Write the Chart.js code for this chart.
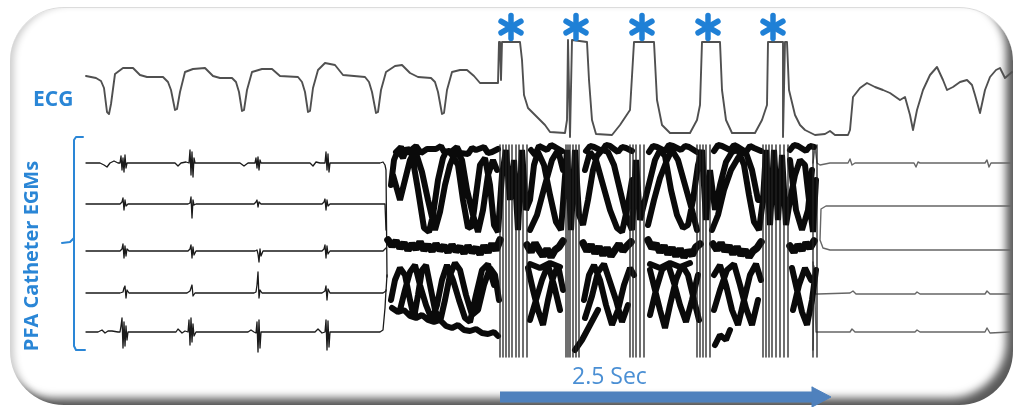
<!DOCTYPE html>
<html>
<head>
<meta charset="utf-8">
<script src="https://cdn.jsdelivr.net/npm/chart.js@4.4.1/dist/chart.umd.min.js"></script>
<style>
html, body { margin: 0; padding: 0; background: #fff; }
#wrap { position: relative; width: 1016px; height: 407px; overflow: hidden; background: #fff; }
#frame {
    position: absolute; left: 10px; top: 7px; width: 1003px; height: 398px;
    box-sizing: border-box; border-radius: 54px;
    border-top: 1px solid #dcdcdc;
    box-shadow: inset -10px -10px 8px -3px rgba(0,0,0,0.65), inset 7px 0 7px -3px rgba(0,0,0,0.2);
}
#chart { position: absolute; left: 0; top: 0; }
.lbl { position: absolute; color: #2a86d6; font-family: "Open Sans", Lato, sans-serif; font-weight: 700; white-space: nowrap; line-height: 1; }
#ecgLbl { left: 33px; top: 88px; font-size: 21px; }
#pfaLbl { left: 31px; top: 256px; font-size: 20px; transform: translate(-50%, -50%) rotate(-90deg); }
#secLbl { left: 572px; top: 364px; font-size: 23px; font-weight: 400; color: #4a8fd4; }
</style>
</head>
<body>
<div id="wrap">
    <div id="frame"></div>
    <canvas id="chart" width="1016" height="407"></canvas>
    <div class="lbl" id="ecgLbl">ECG</div>
    <div class="lbl" id="pfaLbl">PFA Catheter EGMs</div>
    <div class="lbl" id="secLbl">2.5 Sec</div>
</div>
<script>
// ========================
// DATA  (x = sample, 132 per second ; y = trace level, top down)
// ========================
const ecgTrace = [
    [86,76],[96,78],[101,81],[104,88],[107,112],[109,114],[111,104],[115,74],[123,68],[133,68],[140,75],[147,77],[163,77],[168,82],
    [171,90],[175,110],[177,109],[180,92],[185,72],[193,69],[205,68],[213,76],[220,78],[232,78],[236,82],
    [239,92],[242,111],[244,110],[247,90],[252,72],[262,69],[272,69],[280,76],[298,77],[302,82],
    [305,92],[308,112],[310,111],[313,88],[318,70],[325,63],[335,65],[343,75],[365,77],[369,82],
    [372,92],[376,113],[378,112],[381,90],[386,72],[395,66],[402,65],[410,73],[418,77],[431,78],[435,82],
    [438,92],[442,114],[444,113],[447,90],[452,72],[460,70],[467,70],[474,76],[480,83],[498,83],[499,42],
    [500,42],[501,80],[502,42],
    [520,42],[522,60],[524,95],[528,108],[535,115],[545,125],[550,132],[565,133],[567,120],[568,40],[570,137],[572,40],
    [587,42],[589,80],[592,120],[596,134],[612,135],[620,125],[630,110],[634,42],
    [654,42],[657,100],[662,125],[670,133],[690,133],[697,120],[700,105],[702,42],
    [720,42],[722,90],[726,120],[732,133],[755,133],[762,120],[767,105],[768,42],
    [783,42],[783,137],[785,42],[787,42],[789,90],[795,115],[800,125],[805,130],[815,135],[825,134],[830,131],[835,135],[848,135],
    [850,130],[853,97],[860,88],[867,83],[875,87],[883,90],[890,93],[900,100],[905,97],[910,115],[913,130],[917,110],[923,90],
    [930,75],[937,67],[943,80],[947,90],[953,87],[960,82],[967,80],[972,85],[975,95],[980,113],[985,90],[990,77],[996,70],[1000,68],[1005,78],[1012,72]
];

const egmPre1 = [
    [86,163],[100,163],[104,165],[107,167],[110,163],[114,161],[118,163],[120,163],[121,156],[122,170],[123,158],[124,172],[125,155],[126,168],[127,163],[130,163],
    [175,163],[178,166],[181,163],[186,162],[189,163],[190,150],[191,175],[192,152],[193,177],[194,158],[195,163],[200,163],
    [240,163],[244,166],[248,163],[255,163],[256,158],[257,168],[258,157],[259,170],[260,160],[261,163],
    [310,163],[313,166],[316,162],[320,163],[325,163],[326,152],[327,170],[328,154],[329,172],[330,163],
    [380,163],[383,162],[385,165],[386,170],[387,277]
];
const egmPre2 = [
    [86,204],[120,204],[122,202],[123,198],[124,210],[125,200],[126,206],[128,204],
    [188,204],[190,203],[191,197],[192,218],[193,200],[194,205],[196,204],
    [254,204],[256,202],[257,200],[258,207],[259,202],[261,204],
    [322,204],[324,202],[325,199],[326,210],[327,200],[328,206],[330,204],[385,204],[386,230]
];
const egmPre3 = [
    [86,251],[120,251],[122,249],[123,244],[124,258],[125,246],[126,256],[127,249],[129,251],
    [188,251],[190,249],[191,245],[192,258],[193,247],[194,255],[196,251],
    [255,251],[257,250],[258,254],[259,262],[260,249],[261,256],[263,251],
    [322,251],[324,249],[325,245],[326,258],[327,246],[328,254],[330,251],[383,251],[386,248]
];
const egmPre4 = [
    [86,293],[120,293],[123,292],[124,288],[125,286],[126,298],[127,290],[129,293],
    [187,293],[190,291],[192,285],[193,296],[195,293],
    [254,293],[256,292],[257,285],[258,272],[259,298],[260,290],[262,293],
    [322,293],[325,291],[326,286],[327,300],[328,289],[330,293],[383,293],[386,291],[387,275]
];
const egmPre5 = [
    [86,332],[98,332],[102,330],[105,333],[108,331],[112,331],[118,332],[120,332],[121,326],[122,318],[123,348],[124,322],[125,346],[126,326],[127,340],[128,332],
    [176,332],[178,329],[182,333],[185,331],[188,332],[189,320],[190,345],[191,318],[192,342],[193,324],[194,336],[196,332],
    [248,332],[251,330],[254,332],[256,333],[257,322],[258,352],[259,320],[260,348],[261,332],
    [315,332],[318,329],[322,333],[325,332],[326,320],[327,350],[328,321],[329,347],[330,332],
    [380,332],[383,330],[385,308],[386,290]
];

const egmPost1 = [[813,163],[815,147],[817,163],[820,165],[830,163],[848,163],[850,159],[852,165],[855,163],[914,163],[916,167],[918,162],[920,163],[985,163],[987,160],[989,167],[991,163],[1010,163]];
const egmPost23 = [[1010,206],[826,206],[821,209],[820,240],[823,248],[830,250],[1010,250]];
const egmPost4 = [[813,262],[815,294],[818,294],[850,293],[853,291],[856,294],[915,294],[917,292],[920,294],[985,294],[987,291],[990,294],[1010,294]];
const egmPost5 = [[813,350],[814,266],[816,332],[850,332],[852,329],[855,332],[915,332],[917,330],[920,332],[985,332],[987,328],[990,333],[1010,332]];

// PFA artefact, drawn as thick strokes
const noiseTop = [
    [[391,185],[394,160],[398,150],[403,158],[407,148],[412,155],[418,190],[424,228],[429,232],[433,215],[438,180],[443,158],[447,150],[452,155],[458,165],[463,200],[468,228],[472,226],[476,195],[480,165],[485,158],[490,185],[494,225],[498,232],
     [502,175],[506,150],[510,200],[514,160],[518,230],[522,150],[526,210],[530,200],[534,165],[538,152],[544,165],[550,195],[556,222],[561,230],[564,190],[567,150],[571,230],[575,150],[579,215],[583,225],
     [588,200],[593,170],[597,156],[602,150],[608,152],[614,165],[620,190],[626,215],[632,230],[636,160],[640,220],[645,200],[650,180],[655,160],[660,150],[665,156],[671,190],[677,215],[683,228],[688,225],
     [693,200],[698,165],[702,150],[706,220],[710,170],[715,210],[720,185],[726,162],[732,152],[738,150],[744,165],[749,195],[754,222],[759,230],[763,200],[766,150],[770,225],[774,150],[778,220],
     [782,155],[786,225],[790,200],[795,175],[800,160],[805,165],[809,200],[813,232],[816,180]],
    [[393,175],[400,200],[405,180],[410,160],[415,150],[422,172],[428,200],[435,230],[440,212],[445,185],[450,165],[456,150],[462,160],[467,190],[473,215],[478,232],[483,210],[488,175],[493,160],[497,170]],
    [[530,230],[537,215],[545,185],[552,160],[558,150],[563,170]],
    [[585,170],[590,152],[596,160],[603,185],[610,210],[617,228],[622,232],[628,205],[632,180]],
    [[648,225],[654,200],[660,178],[667,160],[672,150],[678,160],[685,185],[692,210],[697,230]],
    [[712,230],[718,215],[724,190],[731,170],[738,158],[745,150],[752,170],[758,200]],
    [[790,160],[796,210],[802,230],[808,210],[812,170]],
    [[396,152],[401,147],[404,154],[411,150],[416,146],[421,153],[427,149],[436,149],[441,146],[444,152],[452,151],[457,147],[460,153],[468,154],[472,148],[476,150],[484,147],[488,153],[492,152],[498,149]],
    [[531,150],[535,155],[539,146],[547,150],[551,145],[555,147],[562,151]],
    [[586,151],[590,146],[594,147],[602,151],[606,145],[610,146],[618,152],[622,147],[626,148],[632,151]],
    [[649,152],[653,146],[657,147],[665,151],[669,145],[673,146],[681,150],[685,146],[689,147],[697,152]],
    [[714,151],[718,145],[722,146],[730,150],[734,145],[738,147],[746,152],[750,146],[754,148],[761,151]],
    [[790,150],[794,145],[798,146],[806,151],[810,146],[814,147]]
];
const noiseMid = [
    [[388,240],[392,246],[396,241],[400,248],[404,243],[408,250],[412,244],[416,249],[420,242],[424,250],[428,245],[432,251],[436,244],[440,250],[444,246],[448,252],[452,245],[456,251],[460,247],[464,253],[468,246],[472,252],[476,248],[480,254],[484,246],[488,252],[492,244],[496,250],[500,240]],
    [[527,245],[531,252],[535,243],[539,250],[543,256],[547,249],[551,257],[555,250],[559,247],[563,241]],
    [[583,243],[587,251],[591,245],[595,253],[599,247],[603,255],[607,248],[611,256],[615,250],[619,244],[623,251],[627,246],[631,242]],
    [[648,240],[652,248],[656,244],[660,252],[664,246],[668,254],[672,248],[676,256],[680,249],[684,257],[688,251],[692,255],[696,247],[700,244]],
    [[713,244],[717,250],[721,243],[725,251],[729,246],[733,254],[737,247],[741,255],[745,250],[749,257],[753,251],[757,248],[761,242]],
    [[790,246],[794,252],[798,245],[802,250],[806,243],[810,248],[814,241]]
];
const noiseLow = [
    [[391,300],[395,280],[400,268],[405,275],[410,300],[414,318],[418,295],[422,270],[426,265],[430,285],[435,310],[440,322],[445,300],[450,275],[455,263],[460,270],[466,295],[472,315],[478,310],[484,285],[490,268],[495,275],[499,300]],
    [[528,268],[533,290],[538,310],[543,325],[548,300],[553,278],[558,265],[563,290]],
    [[584,300],[589,275],[594,265],[600,280],[606,305],[612,325],[618,310],[624,285],[630,268],[634,275]],
    [[650,270],[655,290],[660,310],[665,328],[670,305],[676,280],[682,265],[688,275],[694,300],[699,320]],
    [[714,275],[720,265],[726,285],[732,310],[738,325],[744,300],[750,275],[756,264],[761,280]],
    [[792,268],[797,290],[802,312],[807,325],[812,300],[816,270]],
    [[400,310],[405,290],[410,272],[415,265],[420,285],[426,305],[432,320],[437,305],[442,280],[447,265],[453,280],[459,300],[465,318],[470,322],[476,295],[482,270],[488,264],[494,285]],
    [[530,320],[536,300],[542,280],[548,265],[554,285],[560,310]],
    [[585,318],[592,296],[598,272],[604,264],[610,282],[616,300],[622,322],[628,305]],
    [[650,315],[656,290],[662,270],[668,264],[674,283],[680,305],[686,322],[692,300],[698,275]],
    [[714,310],[720,290],[727,270],[734,264],[740,285],[746,308],[752,325],[758,300]],
    [[793,310],[799,285],[805,268],[811,280]],
    [[392,308],[398,312],[404,310],[410,316],[416,318],[422,315],[428,320],[434,322],[440,320],[446,326],[452,328],[458,325],[464,330],[470,331],[476,329],[482,333],[488,334],[494,332],[498,336]],
    [[575,350],[582,340],[590,325],[598,310]],
    [[715,345],[720,335],[726,340],[730,330]],
    [[530,264],[540,268],[550,263],[560,267]],
    [[650,264],[660,268],[670,263],[680,267],[690,263]]
];

// pulse artefact lines
const pulseX = [500,503,506,509,512,516,519,523,527, 566,568,570,573,576,579, 630,633,636,640,644, 697,700,703,706,710, 763,766,769,772,776,780,784,788, 813,817];
const pulseTop = 145;
const pulseBottom = 357;

// pulse markers (asterisks)
const markerX = [511, 576, 642, 708, 773];
const markerY = 27;

// bracket and scale bar
const bracketMain = [[83,137],[76,137],[74,140],[74,346],[76,350],[85,350]];
const bracketTick = [[74,238],[70,242],[62,243]];
const arrowShaft = [[500,397],[815,397]];
const arrowHead = [[812,387],[831,397],[812,407],[812,387]];

// ========================
// HELPERS
// ========================
function pts(list) {
    return list.map(function(p) { return { x: p[0], y: p[1] }; });
}

function joinSegments(segments) {
    const out = [];
    segments.forEach(function(seg, i) {
        if (i > 0) out.push({ x: seg[0][0], y: null });
        seg.forEach(function(p) { out.push({ x: p[0], y: p[1] }); });
    });
    return out;
}

function pulseLines() {
    const out = [];
    pulseX.forEach(function(x) {
        out.push({ x: x, y: pulseTop });
        out.push({ x: x, y: pulseBottom });
        out.push({ x: x, y: null });
    });
    return out;
}

function asteriskIcon() {
    const c = document.createElement('canvas');
    c.width = 30; c.height = 30;
    const ctx = c.getContext('2d');
    ctx.strokeStyle = '#1f80d6';
    ctx.lineWidth = 5.5;
    ctx.lineCap = 'round';
    for (let a = 0; a < 3; a++) {
        const ang = Math.PI / 2 + a * Math.PI / 3;
        ctx.beginPath();
        ctx.moveTo(15 + Math.cos(ang) * 11.5, 15 + Math.sin(ang) * 11.5);
        ctx.lineTo(15 - Math.cos(ang) * 11.5, 15 - Math.sin(ang) * 11.5);
        ctx.stroke();
    }
    return c;
}

function line(data, color, width, extra) {
    return Object.assign({
        data: data,
        borderColor: color,
        borderWidth: width,
        pointRadius: 0,
        tension: 0,
        fill: false,
        spanGaps: false,
        borderJoinStyle: 'round',
        borderCapStyle: 'round'
    }, extra || {});
}

// ========================
// CHART
// ========================
new Chart(document.getElementById('chart'), {
    type: 'line',
    data: {
        datasets: [
            {
                type: 'scatter',
                data: markerX.map(function(x) { return { x: x, y: markerY }; }),
                pointStyle: asteriskIcon(),
                pointRadius: 15,
                showLine: false
            },
            line(pts(arrowHead), '#4f81bd', 1, { fill: 'shape', backgroundColor: '#4f81bd' }),
            line(pts(arrowShaft), '#4f81bd', 11, { borderCapStyle: 'butt' }),
            line(pts(bracketMain), '#2a86d6', 2),
            line(pts(bracketTick), '#2a86d6', 2),
            line(pts(ecgTrace), '#505050', 1.9),
            line(pulseLines(), '#222', 1.3),
            line(joinSegments(noiseTop), '#0a0a0a', 6, { borderJoinStyle: 'bevel' }),
            line(joinSegments(noiseMid), '#0a0a0a', 7.5, { borderJoinStyle: 'bevel' }),
            line(joinSegments(noiseLow), '#0a0a0a', 6, { borderJoinStyle: 'bevel' }),
            line(pts(egmPre1), '#1a1a1a', 1.3),
            line(pts(egmPre2), '#1a1a1a', 1.3),
            line(pts(egmPre3), '#1a1a1a', 1.3),
            line(pts(egmPre4), '#1a1a1a', 1.3),
            line(pts(egmPre5), '#1a1a1a', 1.3),
            line(pts(egmPost1), '#666', 1.4),
            line(pts(egmPost23), '#666', 1.4),
            line(pts(egmPost4), '#666', 1.4),
            line(pts(egmPost5), '#666', 1.4)
        ]
    },
    options: {
        responsive: false,
        animation: false,
        devicePixelRatio: 1,
        layout: { padding: 0, autoPadding: false },
        scales: {
            x: { type: 'linear', min: 0, max: 1016, display: false },
            y: { type: 'linear', min: 0, max: 407, reverse: true, display: false }
        },
        plugins: {
            legend: { display: false },
            tooltip: { enabled: false }
        }
    }
});
</script>
</body>
</html>
